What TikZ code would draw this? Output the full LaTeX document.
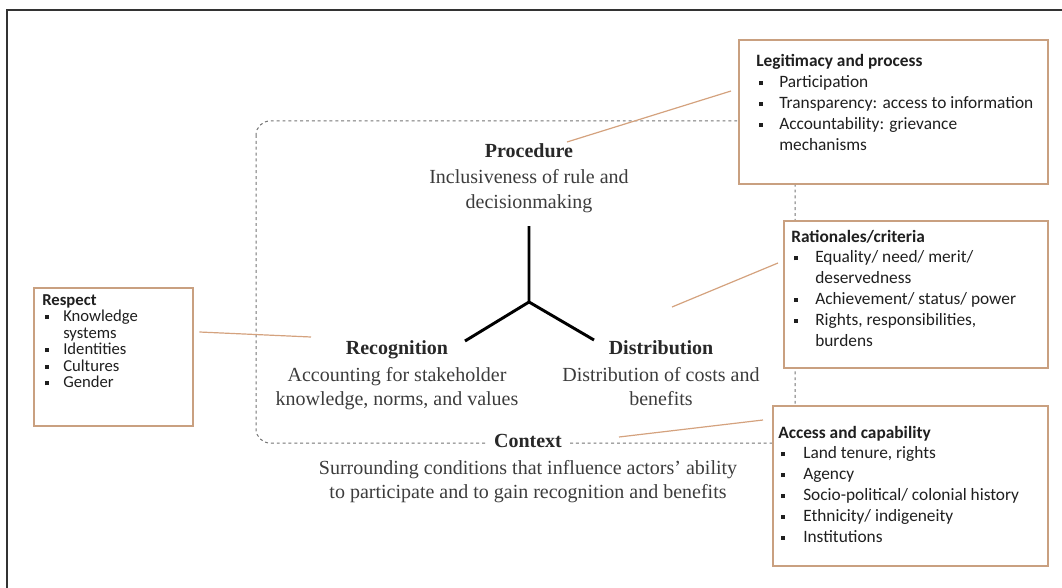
\documentclass[tikz,border=0pt]{standalone}
\usepackage{fontspec}
\setmainfont{Liberation Serif}
\newfontfamily\boxfont{Carlito}
\usetikzlibrary{calc}

% one drawing unit = one pixel of a 1062 x 588 canvas
\newdimen\pxu \pxu=0.75pt
\newdimen\bulletgap

\definecolor{boxedge}{RGB}{201,160,128}
\definecolor{linktan}{RGB}{212,162,126}
\definecolor{bodytext}{RGB}{60,60,60}
\definecolor{titletext}{RGB}{40,40,40}

% bulleted line with hanging indent for continuation lines
\newcommand\bitem[1]{\par\noindent\hangindent=\bulletgap\hangafter=1%
  \makebox[\bulletgap][l]{\hspace{3\pxu}\raisebox{2.4\pxu}{\rule{4\pxu}{4\pxu}}}#1}

\tikzset{
  frame/.style={draw=boxedge, line width=1.8pt, fill=white, inner sep=0pt,
    anchor=north west},
  link/.style={draw=linktan, line width=0.9pt},
  ctitle/.style={font=\bfseries\fontsize{15}{18}\selectfont, text=titletext,
    anchor=base, inner sep=0pt},
  cline/.style={font=\fontsize{15}{18}\selectfont, text=bodytext,
    anchor=base, inner sep=0pt},
  boxtext/.style={anchor=base west, inner sep=0pt, text=black!88,
    font=\boxfont\fontsize{13}{15.6}\selectfont},
  smallboxtext/.style={anchor=base west, inner sep=0pt, text=black!88,
    font=\boxfont\fontsize{12.5}{12.4}\selectfont},
  scopeline/.style={draw=black!55, line width=0.75pt, dash pattern=on 2.2pt off 2.2pt},
  arm/.style={line width=2.2pt, black}
}

\begin{document}
\begin{tikzpicture}[x=0.75pt, y=-0.75pt]
\useasboundingbox (0,0) rectangle (1062,588);

% page frame
\draw[line width=1.4pt, black!80] (7,588) -- (7,10) -- (1062,10);

% dashed outline enclosing the three dimensions
\draw[scopeline, rounded corners=14\pxu] (256,121) rectangle (795,443);

% the three-armed figure
\coordinate (hub) at (529,302);
\coordinate (armTop) at (529,226);
\coordinate (armL) at (465,341);
\coordinate (armR) at (594,340);
\draw[arm] (armTop) -- (hub) -- (armL);
\draw[arm] (hub) -- (armR);

% procedure
\node[ctitle] (procT) at (529,157) {Procedure};
\node[cline] (procA) at (529,183) {Inclusiveness of rule and};
\node[cline] (procB) at (529,208) {decisionmaking};

% recognition
\node[ctitle] (recT) at (397,354) {Recognition};
\node[cline] (recA) at (397,381) {Accounting for stakeholder};
\node[cline] (recB) at (397,405) {knowledge, norms, and values};

% distribution
\node[ctitle] (disT) at (661,354) {Distribution};
\node[cline] (disA) at (661,381) {Distribution of costs and};
\node[cline] (disB) at (661,405) {benefits};

% context
\node[ctitle, fill=white, inner xsep=7\pxu, inner ysep=2\pxu] (ctxT) at (528,447) {Context};
\node[cline] (ctxA) at (528,474) {Surrounding conditions that influence actors’ ability};
\node[cline] (ctxB) at (528,498) {to participate and to gain recognition and benefits};

% side boxes
\node[frame, minimum width=309\pxu, minimum height=144\pxu] (legit) at (738,39) {};
\node[frame, minimum width=264\pxu, minimum height=147\pxu] (rat) at (783,220) {};
\node[frame, minimum width=275\pxu, minimum height=160\pxu] (acc) at (772,405) {};
\node[frame, minimum width=159\pxu, minimum height=138\pxu] (resp) at (33,287) {};

\node[boxtext] (legitText) at (756,67) {\parbox[t]{290\pxu}{\raggedright
  \bulletgap=23\pxu
  \textbf{Legitimacy and process}
  \bitem{Participation}
  \bitem{Transparency: access to information}
  \bitem{Accountability: grievance\newline mechanisms}\par}};

\node[boxtext] (ratText) at (791,242) {\parbox[t]{250\pxu}{\raggedright
  \bulletgap=24\pxu
  \textbf{Rationales/criteria}
  \bitem{Equality/ need/ merit/\newline deservedness}
  \bitem{Achievement/ status/ power}
  \bitem{Rights, responsibilities,\newline burdens}\par}};

\node[boxtext] (accText) at (778,438) {\parbox[t]{260\pxu}{\raggedright
  \bulletgap=25\pxu
  \textbf{Access and capability}
  \bitem{Land tenure, rights}
  \bitem{Agency}
  \bitem{Socio-political/ colonial history}
  \bitem{Ethnicity/ indigeneity}
  \bitem{Institutions}\par}};

\node[smallboxtext] (respText) at (42,305) {\parbox[t]{145\pxu}{\raggedright
  \bulletgap=21\pxu
  \textbf{Respect}
  \bitem{Knowledge\newline systems}
  \bitem{Identities}
  \bitem{Cultures}
  \bitem{Gender}\par}};

% links from the dimensions to their boxes
\coordinate (procOut) at (567,142);
\coordinate (legitIn) at ($(legit.north west)+(-7,52)$);
\draw[link] (procOut) -- (legitIn);

\coordinate (respOut) at ($(resp.north east)+(5,45)$);
\coordinate (recIn) at (311,337);
\draw[link] (respOut) -- (recIn);

\coordinate (disOut) at (672,307);
\coordinate (ratIn) at ($(rat.north west)+(-5,43)$);
\draw[link] (disOut) -- (ratIn);

\coordinate (ctxOut) at (619,437);
\coordinate (accIn) at ($(acc.north west)+(-9,15)$);
\draw[link] (ctxOut) -- (accIn);
\end{tikzpicture}
\end{document}
